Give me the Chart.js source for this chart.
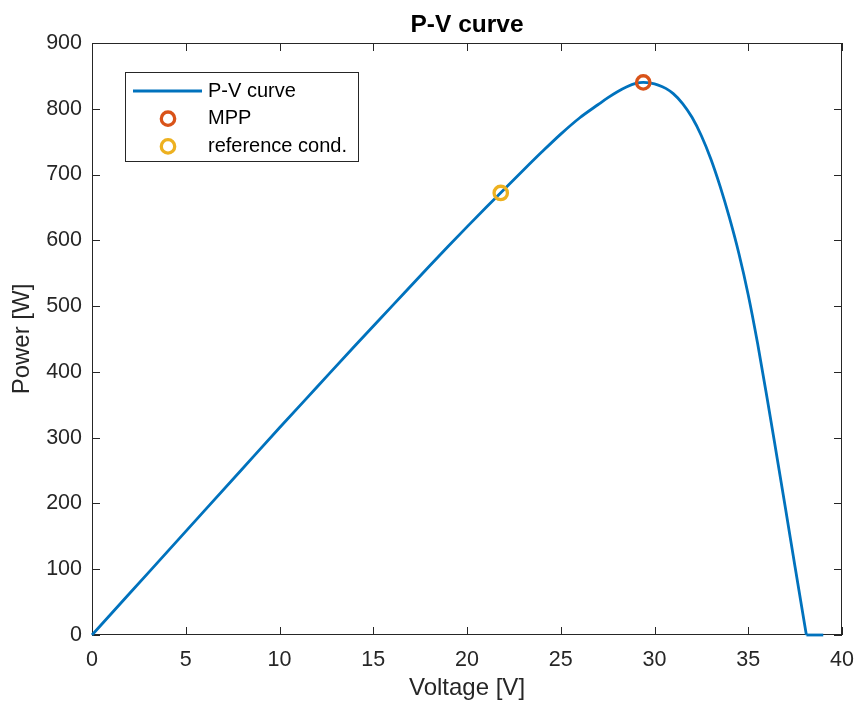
<!DOCTYPE html>
<html>
<head>
<meta charset="utf-8">
<script src="https://cdn.jsdelivr.net/npm/chart.js@4"></script>
<style>
  body { margin: 0; background: #fff; }
  canvas { display: block; }
</style>
</head>
<body>
<canvas id="pvChart" width="855" height="708"></canvas>
<script>
// values
const voltage = [0, 2, 4, 6, 8, 10, 12, 14, 16, 18, 19, 20, 21, 22, 23, 24, 25, 26, 27, 27.5, 28, 28.5, 29, 29.4,
    29.8, 30.2, 30.6, 31, 31.5, 32, 32.5, 33, 33.5, 34, 34.5, 35, 35.5, 36, 36.5, 37, 37.5, 38.1, 39];
const power = [0, 63, 126, 189, 252, 315, 377, 439, 500, 561, 591, 620.5, 649.5, 678, 706.5, 734.5, 761.5, 786, 806.5, 816.5, 825.5, 833, 838.5, 840,
    839, 836, 831, 823, 808, 787, 759, 724, 682, 634, 580, 517, 443, 361, 276, 190, 103, 0, 0];

const mppVoltage = [29.4];
const mppPower = [840];
const refVoltage = [21.8];
const refPower = [672];

const seriesLabels = ['P-V curve', 'MPP', 'reference cond.'];
const xTicks = [0, 5, 10, 15, 20, 25, 30, 35, 40];
const yTicks = [0, 100, 200, 300, 400, 500, 600, 700, 800, 900];

const fontFamily = "'Liberation Sans', Arial, Helvetica, sans-serif";
const axisColor = '#262626';

// curve up to open-circuit voltage is smooth, the clipped tail is flat
const vocIndex = power.findIndex((p, i) => i > 0 && p === 0);
const curvePoints = voltage.slice(0, vocIndex + 1).map((v, i) => ({ x: v, y: power[i] }));
const tailPoints = voltage.slice(vocIndex).map((v, i) => ({ x: v, y: power[vocIndex + i] }));

const boxAndTicks = {
    id: 'boxAndTicks',
    beforeDatasetsDraw(chart) {
        const { ctx, chartArea: { left, right, top, bottom } } = chart;
        const xScale = chart.scales.x;
        const yScale = chart.scales.y;
        const len = 8;
        ctx.save();
        ctx.strokeStyle = axisColor;
        ctx.lineWidth = 1;
        ctx.strokeRect(left + 0.5, top + 0.5, right - left - 1, bottom - top - 1);
        ctx.beginPath();
        xTicks.forEach(v => {
            const px = Math.round(xScale.getPixelForValue(v)) + 0.5;
            ctx.moveTo(px, bottom); ctx.lineTo(px, bottom - len);
            ctx.moveTo(px, top); ctx.lineTo(px, top + len);
        });
        yTicks.forEach(v => {
            const py = Math.round(yScale.getPixelForValue(v)) + 0.5;
            ctx.moveTo(left, py); ctx.lineTo(left + len, py);
            ctx.moveTo(right, py); ctx.lineTo(right - len, py);
        });
        ctx.stroke();
        ctx.restore();
    }
};

const legendBox = {
    id: 'legendBox',
    afterDraw(chart) {
        const { ctx, chartArea } = chart;
        const x0 = chartArea.left + 33;
        const y0 = chartArea.top + 29;
        const w = 233, h = 89;
        ctx.save();
        ctx.fillStyle = '#fff';
        ctx.fillRect(x0, y0, w, h);
        ctx.strokeStyle = axisColor;
        ctx.lineWidth = 1;
        ctx.strokeRect(x0 + 0.5, y0 + 0.5, w, h);

        let row = 0;
        chart.data.datasets.forEach(ds => {
            if (!ds.label) return;
            const y = y0 + 19 + row * 27.7;
            if (ds.showLine) {
                ctx.strokeStyle = ds.borderColor;
                ctx.lineWidth = ds.borderWidth;
                ctx.beginPath();
                ctx.moveTo(x0 + 8, y);
                ctx.lineTo(x0 + 77, y);
                ctx.stroke();
            } else {
                ctx.strokeStyle = ds.pointBorderColor;
                ctx.lineWidth = ds.pointBorderWidth;
                ctx.beginPath();
                ctx.arc(x0 + 43, y, ds.pointRadius, 0, Math.PI * 2);
                ctx.stroke();
            }
            ctx.fillStyle = '#000';
            ctx.font = `20px ${fontFamily}`;
            ctx.textAlign = 'left';
            ctx.textBaseline = 'middle';
            ctx.fillText(ds.label, x0 + 83, y);
            row++;
        });
        ctx.restore();
    }
};

const pvChart = new Chart(document.getElementById('pvChart').getContext('2d'), {
    type: 'scatter',
    data: {
        datasets: [{
            label: seriesLabels[0],
            data: curvePoints,
            showLine: true,
            borderColor: '#0072BD',
            borderWidth: 2.8,
            pointRadius: 0,
            cubicInterpolationMode: 'monotone',
            clip: false,
            order: 2
        }, {
            data: tailPoints,
            showLine: true,
            borderColor: '#0072BD',
            borderWidth: 2.8,
            pointRadius: 0,
            clip: false,
            order: 2
        }, {
            label: seriesLabels[1],
            data: mppVoltage.map((v, i) => ({ x: v, y: mppPower[i] })),
            showLine: false,
            pointRadius: 6.7,
            pointBorderWidth: 3.3,
            pointBorderColor: '#D95319',
            pointBackgroundColor: 'rgba(0,0,0,0)',
            clip: false,
            order: 0
        }, {
            label: seriesLabels[2],
            data: refVoltage.map((v, i) => ({ x: v, y: refPower[i] })),
            showLine: false,
            pointRadius: 6.7,
            pointBorderWidth: 3.3,
            pointBorderColor: '#EDB120',
            pointBackgroundColor: 'rgba(0,0,0,0)',
            clip: false,
            order: 0
        }]
    },
    options: {
        responsive: false,
        animation: false,
        layout: { padding: { left: 0, right: 13, top: 0, bottom: 0 } },
        plugins: {
            legend: { display: false },
            tooltip: { enabled: false },
            title: {
                display: true,
                text: 'P-V curve',
                fullSize: false,
                color: '#000',
                font: { family: fontFamily, size: 24.5, weight: 'bold' },
                padding: { top: 11, bottom: 2.6 }
            }
        },
        scales: {
            x: {
                type: 'linear',
                min: 0,
                max: 40,
                afterFit: scale => {
                    scale.height = 73;
                    scale.paddingLeft = 0;
                    scale.paddingRight = 0;
                },
                afterBuildTicks: scale => { scale.ticks = xTicks.map(v => ({ value: v })); },
                grid: { display: false, drawTicks: false },
                border: { display: false },
                ticks: { color: axisColor, padding: 12, font: { family: fontFamily, size: 21.5 } },
                title: {
                    display: true,
                    text: 'Voltage [V]',
                    color: axisColor,
                    font: { family: fontFamily, size: 24 },
                    padding: { top: 0, bottom: 5 }
                }
            },
            y: {
                type: 'linear',
                min: 0,
                max: 900,
                afterFit: scale => {
                    scale.width = 92;
                    scale.paddingTop = 0;
                    scale.paddingBottom = 0;
                },
                afterBuildTicks: scale => { scale.ticks = yTicks.map(v => ({ value: v })); },
                grid: { display: false, drawTicks: false },
                border: { display: false },
                ticks: { color: axisColor, padding: 10, font: { family: fontFamily, size: 21.5 } },
                title: {
                    display: true,
                    text: 'Power [W]',
                    color: axisColor,
                    font: { family: fontFamily, size: 24 },
                    padding: { top: 7.6, bottom: 0 }
                }
            }
        }
    },
    plugins: [boxAndTicks, legendBox]
});
</script>
</body>
</html>
